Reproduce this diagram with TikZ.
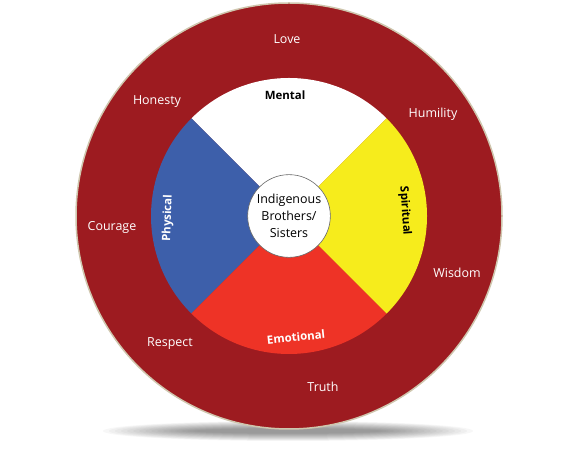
\documentclass[tikz,border=0pt]{standalone}
\usepackage{fontspec}
\setmainfont{Open Sans}
\usepackage{tikz}
\usetikzlibrary{positioning}
\definecolor{ringred}{HTML}{9D1B20}
\definecolor{ringedge}{HTML}{CFC6AE}
\definecolor{physblue}{HTML}{3D5FAA}
\definecolor{spiryellow}{HTML}{F6EC1C}
\definecolor{emored}{HTML}{EE3326}
\tikzset{every picture/.style={line width=0.75pt}}
\tikzset{
  value/.style={text=white, font=\fontsize{12.5}{14}\selectfont},
  aspect/.style={font=\bfseries\fontsize{11.5}{14}\selectfont},
}
\begin{document}
\begin{tikzpicture}[x=1bp,y=1bp]
\useasboundingbox (0,0) rectangle (576,452);
\coordinate (c) at (289,236);
% shadow
\foreach \s in {0,...,15}
  \fill[black, opacity=0.03] (288,21) ellipse ({185-6*\s} and {10-0.5*\s});
% outer ring
\fill[ringred, draw=ringedge, line width=1.5bp] (c) circle (213);
% four quarters
\fill[white] (c) -- +(45:138) arc[start angle=45, end angle=135, radius=138] -- cycle;
\fill[physblue] (c) -- +(135:138) arc[start angle=135, end angle=225, radius=138] -- cycle;
\fill[emored] (c) -- +(225:138) arc[start angle=225, end angle=315, radius=138] -- cycle;
\fill[spiryellow] (c) -- +(-45:138) arc[start angle=-45, end angle=45, radius=138] -- cycle;
%
\node[circle, draw=black!60, line width=0.6bp, fill=white, minimum size=83, inner sep=0,
  align=center, font=\fontsize{12.5}{17}\selectfont] (hub) at (c) {Indigenous\\Brothers/\\Sisters};
%
\node[aspect] (mental) at (285,357) {Mental};
\node[aspect, text=white, rotate=88] (physical) at (168,234) {Physical};
\node[aspect, rotate=-86] (spiritual) at (405,241) {Spiritual};
\node[aspect, text=white, rotate=6] (emotional) at (296,115) {Emotional};
%
\node[value] (love) at (287,413) {Love};
\node[value] (honesty) at (157,350) {Honesty};
\node[value] (humility) at (433,338) {Humility};
\node[value] (courage) at (112,225) {Courage};
\node[value] (wisdom) at (457,179) {Wisdom};
\node[value] (respect) at (170,108) {Respect};
\node[value] (truth) at (323,65) {Truth};
\end{tikzpicture}
\end{document}
